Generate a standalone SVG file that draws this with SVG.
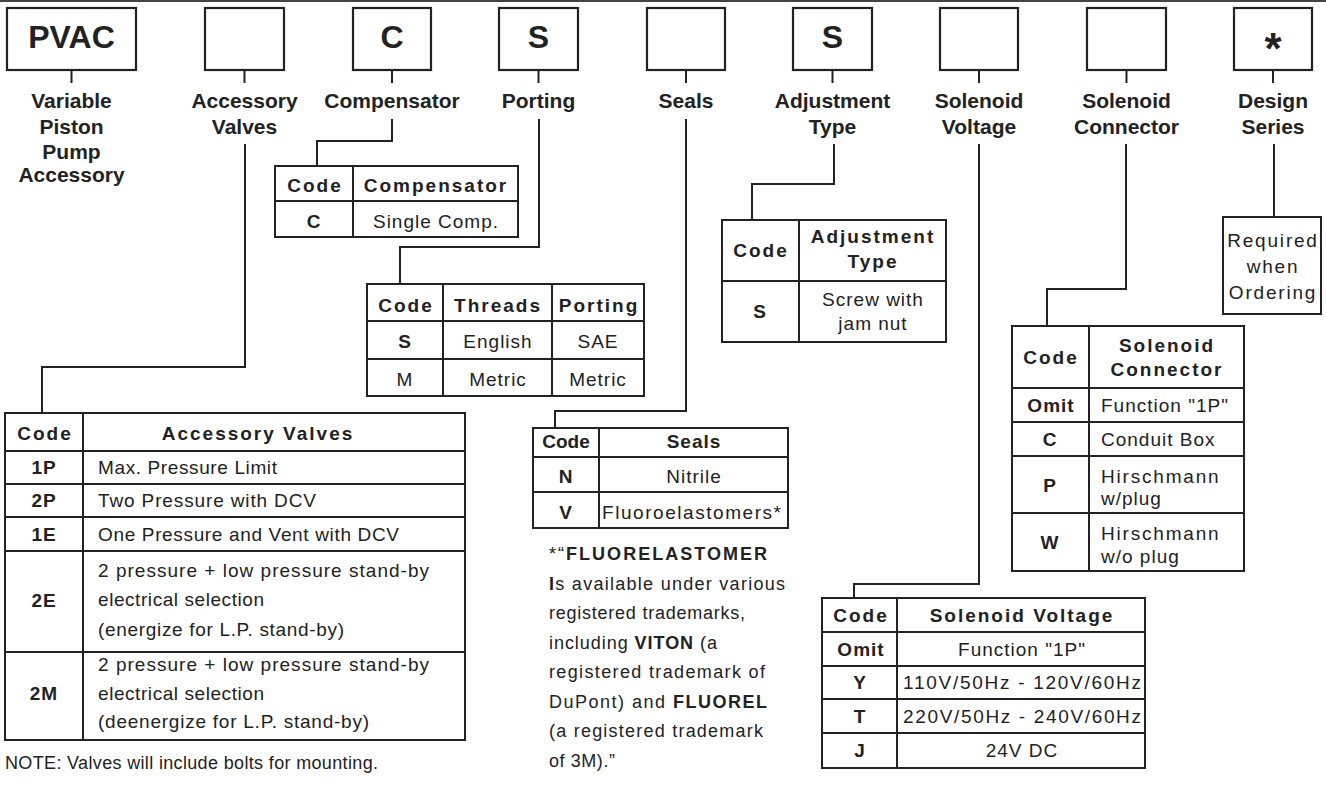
<svg xmlns="http://www.w3.org/2000/svg" width="1326" height="785" viewBox="0 0 1326 785">
<style>
.box{fill:none;stroke:#222;stroke-width:2.2}
.tbl{fill:none;stroke:#222;stroke-width:2}
.ln{fill:none;stroke:#222;stroke-width:2}
text{font-family:"Liberation Sans",Arial,Helvetica,sans-serif;fill:#222}
.big{font-size:32px;font-weight:bold;text-anchor:middle}
.ast{font-size:44px;font-weight:bold;text-anchor:middle}
.lbl{font-size:21px;font-weight:bold;text-anchor:middle}
.th{font-size:19px;font-weight:bold;letter-spacing:2px;text-anchor:middle}
.tc{font-size:19px;font-weight:bold;letter-spacing:1px;text-anchor:middle}
.td{font-size:19px;letter-spacing:1px}
.tm{font-size:19px;letter-spacing:1px;text-anchor:middle}
.nt{font-size:18px}
.b{font-weight:bold}
</style>
<line x1="0" y1="1" x2="1326" y2="1" stroke="#444" stroke-width="2"/>

<g id="connectors">
<path class="ln" d="M71.5 70V83M244.5 70V83M392 70V83M538.5 70V83M686 70V83M832.5 70V83M979 70V83M1126.5 70V83M1273 70V83"/>
<path class="ln" d="M245 144V367H42V413"/>
<path class="ln" d="M392 119V141H317V166"/>
<path class="ln" d="M539 119V247H400V284"/>
<path class="ln" d="M686 119V411H555V428"/>
<path class="ln" d="M834 144V184H752V220"/>
<path class="ln" d="M979 144V584H854V598"/>
<path class="ln" d="M1126 144V289H1047V326"/>
<path class="ln" d="M1274 144V217"/>
</g>

<g id="node-pvac">
<rect class="box" x="7" y="8" width="129" height="62"/>
<text class="big" x="71.5" y="48">PVAC</text>
<text class="lbl" x="71.5" y="108">Variable</text>
<text class="lbl" x="71.5" y="134">Piston</text>
<text class="lbl" x="71.5" y="159">Pump</text>
<text class="lbl" x="71.5" y="182">Accessory</text>
</g>
<g id="node-accessory">
<rect class="box" x="205" y="8" width="79" height="62"/>
<text class="lbl" x="244.5" y="108">Accessory</text>
<text class="lbl" x="244.5" y="134">Valves</text>
</g>
<g id="node-compensator">
<rect class="box" x="353" y="8" width="78" height="62"/>
<text class="big" x="392" y="48">C</text>
<text class="lbl" x="392" y="108">Compensator</text>
</g>
<g id="node-porting">
<rect class="box" x="499" y="8" width="79" height="62"/>
<text class="big" x="538.5" y="48">S</text>
<text class="lbl" x="538.5" y="108">Porting</text>
</g>
<g id="node-seals">
<rect class="box" x="647" y="8" width="78" height="62"/>
<text class="lbl" x="686" y="108">Seals</text>
</g>
<g id="node-adjustment">
<rect class="box" x="793" y="8" width="79" height="62"/>
<text class="big" x="832.5" y="48">S</text>
<text class="lbl" x="832.5" y="108">Adjustment</text>
<text class="lbl" x="832.5" y="134">Type</text>
</g>
<g id="node-voltage">
<rect class="box" x="940" y="8" width="78" height="62"/>
<text class="lbl" x="979" y="108">Solenoid</text>
<text class="lbl" x="979" y="134">Voltage</text>
</g>
<g id="node-connector">
<rect class="box" x="1087" y="8" width="79" height="62"/>
<text class="lbl" x="1126.5" y="108">Solenoid</text>
<text class="lbl" x="1126.5" y="134">Connector</text>
</g>
<g id="node-design">
<rect class="box" x="1234" y="8" width="78" height="62"/>
<text class="ast" x="1273" y="64">*</text>
<text class="lbl" x="1273" y="108">Design</text>
<text class="lbl" x="1273" y="134">Series</text>
</g>

<g id="table-compensator">
<rect class="tbl" x="275" y="166" width="243" height="71"/>
<path class="tbl" d="M275 201H518M353 166V237"/>
<text class="th" x="315" y="192">Code</text>
<text class="th" x="436" y="192">Compensator</text>
<text class="tc" x="314" y="228">C</text>
<text class="tm" x="436" y="228">Single  Comp.</text>
</g>

<g id="table-porting">
<rect class="tbl" x="367" y="284" width="277" height="112"/>
<path class="tbl" d="M367 321H644M367 359H644M443 284V396M552 284V396"/>
<text class="th" x="406" y="312">Code</text>
<text class="th" x="498" y="312">Threads</text>
<text class="th" x="599" y="312">Porting</text>
<text class="tc" x="405" y="348">S</text>
<text class="tm" x="498" y="348">English</text>
<text class="tm" x="598" y="348">SAE</text>
<text class="tm" x="405" y="386">M</text>
<text class="tm" x="498" y="386">Metric</text>
<text class="tm" x="598" y="386">Metric</text>
</g>

<g id="table-adjustment">
<rect class="tbl" x="722" y="220" width="224" height="122"/>
<path class="tbl" d="M722 281H946M799 220V342"/>
<text class="th" x="761" y="257">Code</text>
<text class="th" x="873" y="243">Adjustment</text>
<text class="th" x="873" y="268">Type</text>
<text class="tc" x="760" y="318">S</text>
<text class="tm" x="873" y="306">Screw  with</text>
<text class="tm" x="873" y="330">jam  nut</text>
</g>

<g id="table-design">
<rect class="tbl" x="1223" y="217" width="98" height="97"/>
<text class="tm" x="1273" y="247" style="letter-spacing:1.8px">Required</text>
<text class="tm" x="1273" y="273" style="letter-spacing:1.8px">when</text>
<text class="tm" x="1273" y="299" style="letter-spacing:1.8px">Ordering</text>
</g>

<g id="table-connector">
<rect class="tbl" x="1012" y="326" width="232" height="245"/>
<path class="tbl" d="M1012 388H1244M1012 422H1244M1012 456H1244M1012 513H1244M1089 326V571"/>
<text class="th" x="1051" y="364">Code</text>
<text class="th" x="1167" y="352">Solenoid</text>
<text class="th" x="1167" y="376">Connector</text>
<text class="tc" x="1051" y="412">Omit</text>
<text class="td" x="1101" y="412">Function  "1P"</text>
<text class="tc" x="1050" y="446">C</text>
<text class="td" x="1101" y="446">Conduit  Box</text>
<text class="tc" x="1050" y="492">P</text>
<text class="td" x="1101" y="483" style="letter-spacing:1.8px">Hirschmann</text>
<text class="td" x="1101" y="505">w/plug</text>
<text class="tc" x="1050" y="549">W</text>
<text class="td" x="1101" y="540" style="letter-spacing:1.8px">Hirschmann</text>
<text class="td" x="1101" y="563">w/o  plug</text>
</g>

<g id="table-accessory">
<rect class="tbl" x="5" y="413" width="460" height="327"/>
<path class="tbl" d="M5 451H465M5 484H465M5 517H465M5 551H465M5 652H465M83 413V740"/>
<text class="th" x="45" y="440">Code</text>
<text class="th" x="258" y="440">Accessory  Valves</text>
<text class="tc" x="44" y="474">1P</text>
<text class="td" x="98" y="474" textLength="180">Max.  Pressure  Limit</text>
<text class="tc" x="44" y="507">2P</text>
<text class="td" x="98" y="507" textLength="219">Two  Pressure  with  DCV</text>
<text class="tc" x="44" y="541">1E</text>
<text class="td" x="98" y="541" textLength="302">One  Pressure  and  Vent  with  DCV</text>
<text class="tc" x="44" y="607">2E</text>
<text class="td" x="98" y="577" textLength="332">2  pressure  +  low  pressure  stand-by</text>
<text class="td" x="98" y="606" textLength="167">electrical  selection</text>
<text class="td" x="98" y="636" textLength="247">(energize  for  L.P.  stand-by)</text>
<text class="tc" x="44" y="700">2M</text>
<text class="td" x="98" y="671" textLength="332">2  pressure  +  low  pressure  stand-by</text>
<text class="td" x="98" y="700" textLength="167">electrical  selection</text>
<text class="td" x="98" y="728" textLength="272">(deenergize  for  L.P.  stand-by)</text>
<text class="nt" x="5" y="769" textLength="373">NOTE:  Valves will include bolts for mounting.</text>
</g>

<g id="table-seals">
<rect class="tbl" x="533" y="428" width="255" height="100"/>
<path class="tbl" d="M533 457H788M533 492H788M599 428V528"/>
<text class="tc" x="566" y="448" style="letter-spacing:0">Code</text>
<text class="tc" x="694" y="448">Seals</text>
<text class="tc" x="566" y="483">N</text>
<text class="tm" x="694" y="483">Nitrile</text>
<text class="tc" x="566" y="519">V</text>
<text class="td" x="602" y="519" textLength="180">Fluoroelastomers*</text>
<text class="nt" x="549" y="560" textLength="218"><tspan>*“</tspan><tspan class="b">FLUORELASTOMER</tspan></text>
<text class="nt" x="549" y="589.5" textLength="236"><tspan class="b">I</tspan>s  available  under  various</text>
<text class="nt" x="549" y="619" textLength="196">registered  trademarks,</text>
<text class="nt" x="549" y="648.5" textLength="168">including  <tspan class="b">VITON</tspan>  (a</text>
<text class="nt" x="549" y="678" textLength="216">registered  trademark  of</text>
<text class="nt" x="549" y="707.5" textLength="218">DuPont)  and  <tspan class="b">FLUOREL</tspan></text>
<text class="nt" x="549" y="737" textLength="214">(a  registered  trademark</text>
<text class="nt" x="549" y="766.5" textLength="66">of  3M).”</text>
</g>

<g id="table-voltage">
<rect class="tbl" x="822" y="598" width="323" height="170"/>
<path class="tbl" d="M822 632H1145M822 666H1145M822 699H1145M822 733H1145M897 598V768"/>
<text class="th" x="861" y="622">Code</text>
<text class="th" x="1022" y="622">Solenoid  Voltage</text>
<text class="tc" x="861" y="656">Omit</text>
<text class="tm" x="1022" y="656">Function  "1P"</text>
<text class="tc" x="860" y="689">Y</text>
<text class="td" x="903" y="689" textLength="239">110V/50Hz  -  120V/60Hz</text>
<text class="tc" x="860" y="723">T</text>
<text class="td" x="903" y="723" textLength="239">220V/50Hz  -  240V/60Hz</text>
<text class="tc" x="860" y="757">J</text>
<text class="tm" x="1022" y="757">24V  DC</text>
</g>
</svg>
